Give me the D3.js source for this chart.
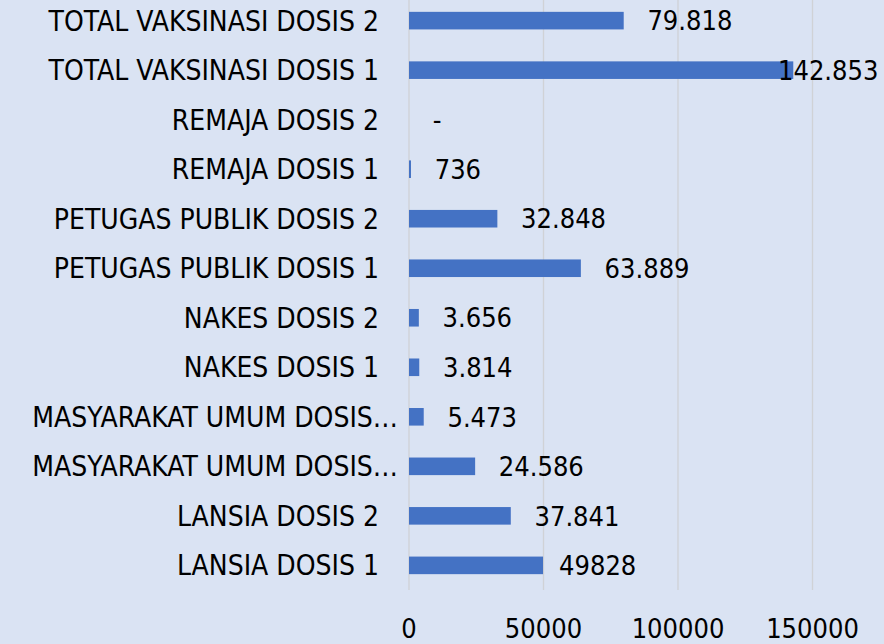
<!DOCTYPE html>
<html>
<head>
<meta charset="utf-8">
<script src="https://cdn.jsdelivr.net/npm/d3@7"></script>
<style>
  html, body { margin: 0; padding: 0; background: #dae3f3; }
  svg text { font-family: "Liberation Sans Narrow", "DejaVu Sans Condensed", "Liberation Sans", sans-serif; fill: #000; }
</style>
</head>
<body>
<svg id="chart" width="884" height="644"></svg>
<script>
// categories, top to bottom
var categories = [
  "TOTAL VAKSINASI DOSIS 2",
  "TOTAL VAKSINASI DOSIS 1",
  "REMAJA DOSIS 2",
  "REMAJA DOSIS 1",
  "PETUGAS PUBLIK DOSIS 2",
  "PETUGAS PUBLIK DOSIS 1",
  "NAKES DOSIS 2",
  "NAKES DOSIS 1",
  "MASYARAKAT UMUM DOSIS…",
  "MASYARAKAT UMUM DOSIS…",
  "LANSIA DOSIS 2",
  "LANSIA DOSIS 1"
];
var values = [79818, 142853, 0, 736, 32848, 63889, 3656, 3814, 5473, 24586, 37841, 49828];
var valueLabels = [" 79.818", "142.853", " -", " 736", " 32.848", " 63.889", " 3.656", " 3.814", " 5.473", " 24.586", " 37.841", "49828"];
var ticks = [0, 50000, 100000, 150000];

var svg = d3.select("#chart");

var x = d3.scaleLinear().domain([0, 150000]).range([409, 812.5]);
var y = d3.scaleBand().domain(d3.range(categories.length)).range([-4, 590]).paddingInner(0.645).paddingOuter(0.32);

// gridlines
svg.append("g")
  .selectAll("line")
  .data(ticks)
  .enter().append("line")
  .attr("x1", function(d) { return x(d); })
  .attr("x2", function(d) { return x(d); })
  .attr("y1", 0)
  .attr("y2", 590)
  .attr("stroke", "#d0d2d6")
  .attr("stroke-width", 1.3);

// bars
svg.append("g")
  .selectAll("rect")
  .data(values)
  .enter().append("rect")
  .attr("x", x(0))
  .attr("y", function(d, i) { return y(i); })
  .attr("width", function(d) { return x(d) - x(0); })
  .attr("height", y.bandwidth())
  .attr("fill", "#4472c4");

// value labels (the biggest one gets pushed back inside the edge)
svg.append("g")
  .selectAll("text")
  .data(values)
  .enter().append("text")
  .attr("x", function(d, i) { return i === 1 ? 778 : x(d) + 16; })
  .attr("y", function(d, i) { return y(i) + y.bandwidth() / 2; })
  .attr("dy", "0.36em")
  .attr("font-size", 27)
  .style("white-space", "pre")
  .text(function(d, i) { return valueLabels[i]; });

// category labels
svg.append("g")
  .selectAll("text")
  .data(categories)
  .enter().append("text")
  .attr("x", function(d) { return d.indexOf("…") >= 0 ? 398 : 379; })
  .attr("y", function(d, i) { return y(i) + y.bandwidth() / 2; })
  .attr("dy", "0.36em")
  .attr("text-anchor", "end")
  .attr("font-size", 28)
  .text(function(d) { return d; });

// x axis tick labels
svg.append("g")
  .selectAll("text")
  .data(ticks)
  .enter().append("text")
  .attr("x", function(d) { return x(d); })
  .attr("y", 638)
  .attr("text-anchor", "middle")
  .attr("font-size", 27)
  .text(function(d) { return d; });
</script>
</body>
</html>
